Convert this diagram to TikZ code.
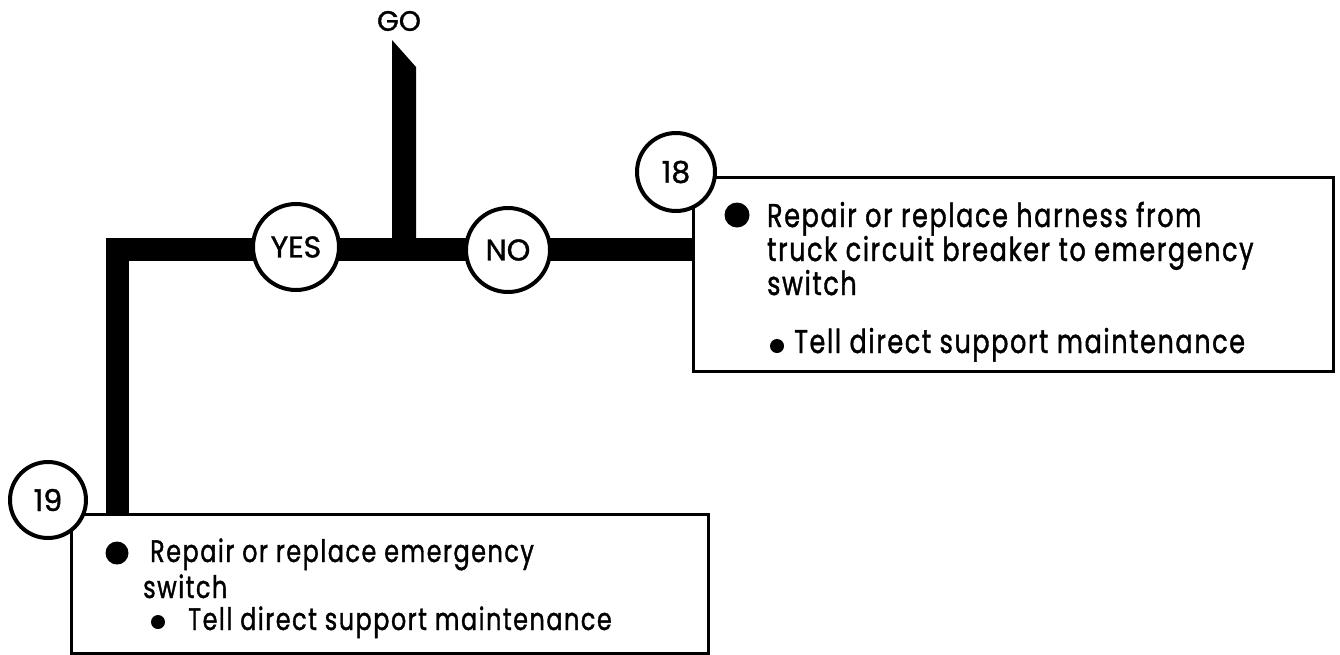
\documentclass[tikz,border=0pt]{standalone}
\usepackage{fontspec}
\setmainfont{Poppins}
\newfontfamily\diag[FakeStretch=0.77, FakeBold=1.2, LetterSpace=5]{Poppins}
\newfontfamily\diaglab[FakeBold=1.2]{Poppins}
\begin{document}
\begin{tikzpicture}[x=1pt,y=-1pt,
  bar/.style={line width=23pt},
  lab/.style={circle, draw, line width=4pt, fill=white, inner sep=0pt, font=\diaglab\fontsize{30}{32}\selectfont},
  box/.style={draw, line width=3pt, inner sep=0pt},
  txtA/.style={anchor=base west, inner sep=0pt, font=\diag\fontsize{33}{35}\selectfont},
  txtB/.style={anchor=base west, inner sep=0pt, font=\diag\fontsize{31}{33}\selectfont},
  dot/.style={circle, fill=black, inner sep=0pt}
]
\useasboundingbox (0,0) rectangle (1340,654);
% boxes
\node[box, minimum width=640pt, minimum height=194pt, anchor=north west] (b18) at (692,176) {};
\node[box, minimum width=637pt, minimum height=139pt, anchor=north west] (b19) at (70,513) {};
% thick flow bars
\coordinate (corner) at (117,249);
\draw[bar] (corner |- b19.north) -- (corner) -- (b18.west |- corner);
\fill (392,40) -- (416,67) -- (416,249) -- (392,249) -- cycle;
\node[font=\diaglab\fontsize{28}{30}\selectfont, inner sep=0pt] (go) at (399,21) {GO};
% decision circles
\node[lab, minimum size=86pt] (yes) at (296,247) {YES};
\node[lab, minimum size=84pt] (no) at (508,250) {NO};
\node[lab, minimum size=78pt] (c18) at (676,172) {18};
\node[lab, minimum size=76pt] (c19) at (48,500) {19};
% box 18 text
\node[dot, minimum size=25pt] (d18) at (737,215) {};
\node[txtA] (t18a) at (767,227) {Repair or replace harness from};
\node[txtA] (t18b) at (767,261) {truck circuit breaker to emergency};
\node[txtA] (t18c) at (767,295) {switch};
\node[dot, minimum size=14pt] (s18) at (777,346) {};
\node[txtA] (t18d) at (794,353) {Tell direct support maintenance};
% box 19 text
\node[dot, minimum size=23pt] (d19) at (117,553) {};
\node[txtB] (t19a) at (150,562) {Repair or replace emergency};
\node[txtB] (t19b) at (143,598) {switch};
\node[dot, minimum size=14pt] (s19) at (158,622) {};
\node[txtB] (t19c) at (188,630) {Tell direct support maintenance};
\end{tikzpicture}
\end{document}
